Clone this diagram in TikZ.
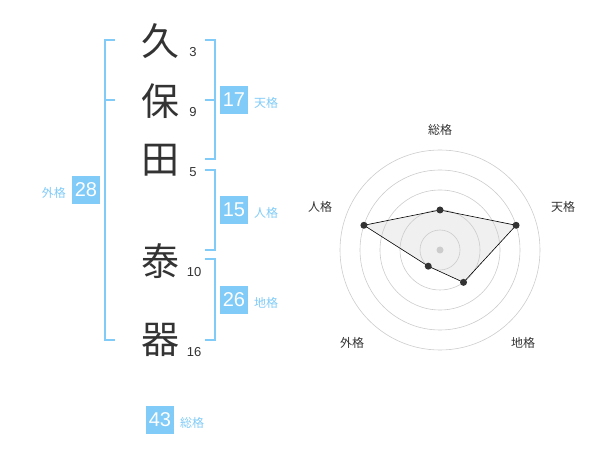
\documentclass[tikz,border=0pt]{standalone}
\usepackage{fontspec}
\setmainfont{Liberation Sans}
\newfontfamily\jp{Noto Sans CJK JP}
\definecolor{kblue}{HTML}{80CBF8}
\definecolor{kdark}{HTML}{333333}
\definecolor{kring}{HTML}{CCCCCC}
\tikzset{
  kanji/.style={font=\jp\fontsize{38}{38}\selectfont, text=kdark, inner sep=0pt, anchor=center},
  stroke/.style={font=\fontsize{13}{13}\selectfont, text=kdark, inner sep=0pt, anchor=center},
  numbox/.style={fill=kblue, text=white, minimum width=28pt, minimum height=28pt, inner sep=0pt, font=\fontsize{20}{20}\selectfont},
  kaku/.style={font=\jp\fontsize{12}{12}\selectfont, text=kblue, inner sep=0pt},
  brk/.style={draw=kblue, line width=2pt},
  ring/.style={draw=kring, line width=0.6pt},
  axlabel/.style={font=\jp\fontsize{12}{12}\selectfont, text=kdark, inner sep=0pt},
  dot/.style={circle, fill=kdark, inner sep=0pt, minimum size=7pt}
}
\begin{document}
\begin{tikzpicture}[x=1pt,y=-1pt]
\useasboundingbox (0,0) rectangle (600,470);
% kanji
\node[kanji] (k1) at (160,41) {久};
\node[kanji] (k2) at (160,101) {保};
\node[kanji] (k3) at (160,160) {田};
\node[kanji] (k4) at (160,261) {泰};
\node[kanji] (k5) at (160,340) {器};
% stroke counts
\node[stroke] (s1) at (193,52) {3};
\node[stroke] (s2) at (193,112) {9};
\node[stroke] (s3) at (193,172) {5};
\node[stroke] (s4) at (194,272) {10};
\node[stroke] (s5) at (194,352) {16};
% left bracket
\draw[brk] (115,40) -- (105,40) -- (105,340) -- (115,340);
\draw[brk] (105,100) -- (115,100);
% right brackets
\draw[brk] (205,40) -- (215,40) -- (215,159) -- (205,159);
\draw[brk] (205,100) -- (215,100);
\draw[brk] (205,170) -- (215,170) -- (215,250) -- (205,250);
\draw[brk] (205,259) -- (215,259) -- (215,340) -- (205,340);
% boxes
\node[numbox] (gai) at (86,190) {28};
\node[kaku, anchor=east] (gail) at (66,193) {外格};
\node[numbox] (ten) at (234,100) {17};
\node[kaku, anchor=west] (tenl) at (254,103) {天格};
\node[numbox] (jin) at (234,210) {15};
\node[kaku, anchor=west] (jinl) at (254,213) {人格};
\node[numbox] (chi) at (234,300) {26};
\node[kaku, anchor=west] (chil) at (254,303) {地格};
\node[numbox] (sou) at (160,420) {43};
\node[kaku, anchor=west] (soul) at (180,423) {総格};
% radar
\coordinate (c) at (440,250);
\begin{scope}[shift={(440,250)}, y=1pt]
\coordinate (q1) at (90:40);
\coordinate (q2) at (18:80);
\coordinate (q3) at (-54:40);
\coordinate (q4) at (-126:20);
\coordinate (q5) at (162:80);
\fill[black!6] (q1) -- (q2) -- (q3) -- (q4) -- (q5) -- cycle;
\end{scope}
\foreach \r in {20,40,60,80,100} \draw[ring] (c) circle (\r);
\fill[kring] (c) circle (3.5);
\begin{scope}[shift={(440,250)}, y=1pt]
\draw[black, line width=0.6pt] (q1) -- (q2) -- (q3) -- (q4) -- (q5) -- cycle;
\node[dot] (d1) at (q1) {};
\node[dot] (d2) at (q2) {};
\node[dot] (d3) at (q3) {};
\node[dot] (d4) at (q4) {};
\node[dot] (d5) at (q5) {};
\node[axlabel] (l1) at (0,120) {総格};
\node[axlabel] (l2) at (123,43) {天格};
\node[axlabel] (l3) at (83,-93) {地格};
\node[axlabel] (l4) at (-88,-93) {外格};
\node[axlabel] (l5) at (-120,43) {人格};
\end{scope}
\end{tikzpicture}
\end{document}
